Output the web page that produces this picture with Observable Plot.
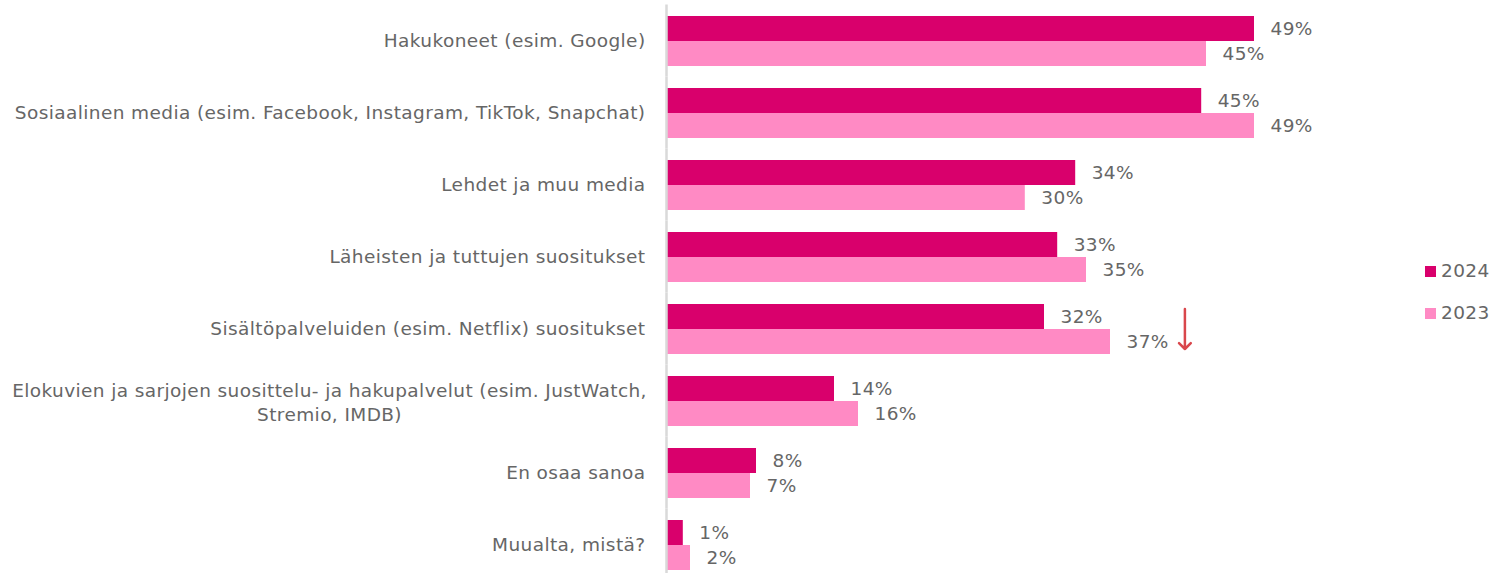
<!DOCTYPE html>
<html><head><meta charset="utf-8">
<script src="https://cdn.jsdelivr.net/npm/d3@7"></script>
<script src="https://cdn.jsdelivr.net/npm/@observablehq/plot@0.6"></script>
<style>
body{margin:0;background:#fff;font-family:"DejaVu Sans",sans-serif;}
#wrap{position:relative;width:1495px;height:573px;}
#wrap svg text{letter-spacing:0.4px;}
.leg{position:absolute;left:1425px;font-size:18.5px;letter-spacing:0.4px;color:#666;display:flex;align-items:center;gap:5px;line-height:1;}
.leg span.sw{display:inline-block;width:11px;height:11px;}
</style>
</head><body><div id="wrap"></div>
<script>
const categories = [
  "Hakukoneet (esim. Google)",
  "Sosiaalinen media (esim. Facebook, Instagram, TikTok, Snapchat)",
  "Lehdet ja muu media",
  "Läheisten ja tuttujen suositukset",
  "Sisältöpalveluiden (esim. Netflix) suositukset",
  "Elokuvien ja sarjojen suosittelu- ja hakupalvelut (esim. JustWatch, Stremio, IMDB)",
  "En osaa sanoa",
  "Muualta, mistä?"
];
const wrappedLabels = {
  "Elokuvien ja sarjojen suosittelu- ja hakupalvelut (esim. JustWatch, Stremio, IMDB)":
    "Elokuvien ja sarjojen suosittelu- ja hakupalvelut (esim. JustWatch,\nStremio, IMDB)"
};
const years = ["2024", "2023"];
const values2024 = [49, 44.6, 34.1, 32.6, 31.5, 14, 7.5, 1.4];
const values2023 = [45, 49, 29.9, 35, 37, 16, 7, 2];
const colors = ["#D9006C", "#FF8AC4"];
const arrowNotes = [{cat: "Sisältöpalveluiden (esim. Netflix) suositukset", x: 43.2, from: "2024", to: "2023"}];

const rows = [];
categories.forEach((c, i) => {
  rows.push({cat: c, year: "2024", value: values2024[i]});
  rows.push({cat: c, year: "2023", value: values2023[i]});
});
const catRows = categories.map(c => ({cat: c}));
const plainCats = categories.filter(c => !wrappedLabels[c]).map(c => ({cat: c}));
const wrapCats = categories.filter(c => wrappedLabels[c]).map(c => ({cat: c, label: wrappedLabels[c]}));

const FONT = '"DejaVu Sans", sans-serif';
const TXT = "#666666";
const FS = 18.5;
const chart = Plot.plot({
  width: 1495, height: 573,
  marginLeft: 666, marginRight: 241, marginTop: 15, marginBottom: 3,
  x: {domain: [0, 49], axis: null},
  y: {domain: years, axis: null, padding: 0},
  fy: {domain: categories, axis: null, paddingInner: 21/72, paddingOuter: 0},
  color: {domain: years, range: colors},
  style: {fontFamily: FONT, fontSize: FS + "px", color: TXT, background: "#fff", overflow: "visible"},
  marks: [
    Plot.barX(rows, {fy: "cat", y: "year", x: "value", fill: "year"}),
    Plot.text(rows, {fy: "cat", y: "year", x: "value", text: d => Math.round(d.value) + "%", textAnchor: "start", dx: 16, fill: TXT, fontSize: FS}),
    Plot.text(plainCats, {fy: "cat", text: "cat", frameAnchor: "left", textAnchor: "end", dx: -21, fill: TXT, fontSize: FS}),
    Plot.text(wrapCats, {fy: "cat", text: "label", frameAnchor: "left", textAnchor: "middle", dx: -337, lineHeight: 1.3, fill: TXT, fontSize: FS}),
    Plot.ruleX(catRows, {fy: "cat", x: () => 0, stroke: "#d9d9d9", strokeWidth: 2.5, insetTop: -10.5, insetBottom: -10.5}),
    Plot.arrow(arrowNotes, {fy: "cat", x1: "x", x2: "x", y1: "from", y2: "to", stroke: "#D9474C", strokeWidth: 2.5, headAngle: 90, headLength: 11, insetStart: -8, insetEnd: -7})
  ]
});
const wrap = document.getElementById("wrap");
wrap.appendChild(chart);
years.forEach((y, i) => {
  const d = document.createElement("div");
  d.className = "leg";
  d.style.top = (i === 0 ? 262 : 304) + "px";
  d.innerHTML = `<span class="sw" style="background:${colors[i]}"></span><span>${y}</span>`;
  wrap.appendChild(d);
});
</script>
</body></html>
